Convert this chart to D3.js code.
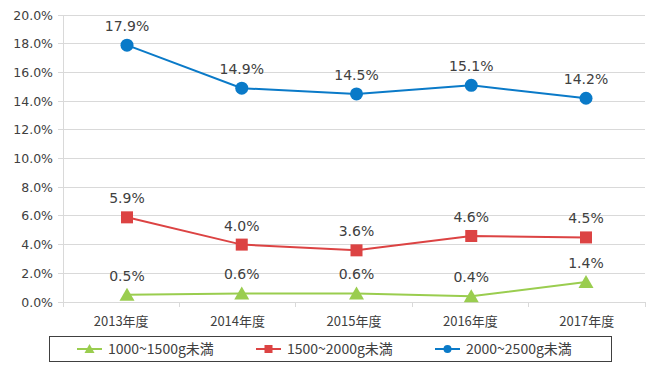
<!DOCTYPE html>
<html><head><meta charset="utf-8">
<script src="https://cdn.jsdelivr.net/npm/d3@7"></script>
<style>body{margin:0;background:#fff}</style>
</head><body>
<script>
const categories = ["2013年度","2014年度","2015年度","2016年度","2017年度"];
const seriesNames = ["1000~1500g未満","1500~2000g未満","2000~2500g未満"];
const green = [0.5, 0.6, 0.6, 0.4, 1.4];
const red = [5.9, 4.0, 3.6, 4.6, 4.5];
const blue = [17.9, 14.9, 14.5, 15.1, 14.2];
const yTicks = [0,2,4,6,8,10,12,14,16,18,20];

(function(){
const W = 661, H = 372;
const svg = d3.select("body").append("svg").attr("width", W).attr("height", H);
const pL = 63, pR = 645, pT = 15, pB = 302;
const fontNum = "DejaVu Sans, Noto Sans CJK JP, sans-serif";
const fontJP = "Noto Sans CJK JP, sans-serif";

const y = d3.scaleLinear().domain([0, 20]).range([pB, pT]);
const xb = d3.scaleBand().domain(categories).range([pL, pR]);
const xp = d3.scalePoint().domain(categories).range([127, 586]);

svg.append("g").selectAll("line").data(yTicks).join("line")
  .attr("x1", pL - 5).attr("x2", pR)
  .attr("y1", d => y(d)).attr("y2", d => y(d))
  .attr("stroke", "#d9d9d9").attr("stroke-width", 1).attr("shape-rendering", "crispEdges");

const yAxis = svg.append("g").attr("transform", `translate(${pL},0)`)
  .call(d3.axisLeft(y).tickValues(yTicks).tickSize(0).tickPadding(10).tickFormat(d => d.toFixed(1) + "%"));
yAxis.select(".domain").attr("stroke", "#d9d9d9").attr("shape-rendering", "crispEdges");
yAxis.selectAll("text").attr("font-family", fontNum).attr("font-size", "12.5px").attr("fill", "#404040");

const xAxis = svg.append("g").attr("transform", `translate(0,${pB})`)
  .call(d3.axisBottom(xb).tickSize(0).tickPadding(15));
xAxis.select(".domain").attr("stroke", "#d9d9d9").attr("shape-rendering", "crispEdges");
xAxis.selectAll("text").attr("font-family", fontJP).attr("font-size", "13px").attr("fill", "#404040");
const edges = categories.map(c => xb(c)).concat([pR]);
svg.append("g").selectAll("line").data(edges).join("line")
  .attr("x1", d => d).attr("x2", d => d).attr("y1", pB).attr("y2", pB + 5)
  .attr("stroke", "#d9d9d9").attr("shape-rendering", "crispEdges");

const series = [
  {name: seriesNames[0], values: green, color: "#9acd4f", shape: "tri"},
  {name: seriesNames[1], values: red, color: "#dc4343", shape: "sq"},
  {name: seriesNames[2], values: blue, color: "#0a7ac8", shape: "circ"}
];

function drawMarker(g, shape, color, cx, cy) {
  if (shape === "circ") g.append("circle").attr("cx", cx).attr("cy", cy).attr("r", 6.5).attr("fill", color);
  else if (shape === "sq") g.append("rect").attr("x", cx - 6).attr("y", cy - 6).attr("width", 12).attr("height", 12).attr("fill", color);
  else g.append("path").attr("d", `M${cx},${cy - 7}L${cx + 7.5},${cy + 6}L${cx - 7.5},${cy + 6}Z`).attr("fill", color);
}

const line = d3.line().x((d, i) => xp(categories[i])).y(d => y(d));
series.forEach(s => {
  svg.append("path").datum(s.values).attr("d", line).attr("fill", "none")
    .attr("stroke", s.color).attr("stroke-width", 2);
  const g = svg.append("g");
  s.values.forEach((v, i) => drawMarker(g, s.shape, s.color, xp(categories[i]), y(v)));
  svg.append("g").selectAll("text").data(s.values).join("text")
    .attr("x", (d, i) => xp(categories[i])).attr("y", d => y(d) - 14)
    .attr("text-anchor", "middle").attr("font-family", fontNum).attr("font-size", "14px")
    .attr("fill", "#404040").text(d => d.toFixed(1) + "%");
});

svg.append("rect").attr("x", 49.5).attr("y", 336.5).attr("width", 562).attr("height", 25)
  .attr("fill", "none").attr("stroke", "#404040").attr("stroke-width", 1);
const legX = [77, 256, 435];
series.forEach((s, i) => {
  const g = svg.append("g");
  g.append("line").attr("x1", legX[i]).attr("x2", legX[i] + 25).attr("y1", 349).attr("y2", 349)
    .attr("stroke", s.color).attr("stroke-width", 2);
  const cx = legX[i] + 12.5;
  if (s.shape === "circ") g.append("circle").attr("cx", cx).attr("cy", 349).attr("r", 4).attr("fill", s.color);
  else if (s.shape === "sq") g.append("rect").attr("x", cx - 4).attr("y", 345).attr("width", 8).attr("height", 8).attr("fill", s.color);
  else g.append("path").attr("d", `M${cx},${344}L${cx + 5},${353}L${cx - 5},${353}Z`).attr("fill", s.color);
  g.append("text").attr("x", legX[i] + 31).attr("y", 354).attr("font-family", fontJP)
    .attr("font-size", "14px").attr("fill", "#404040").text(s.name);
});
})();
</script>
</body></html>
